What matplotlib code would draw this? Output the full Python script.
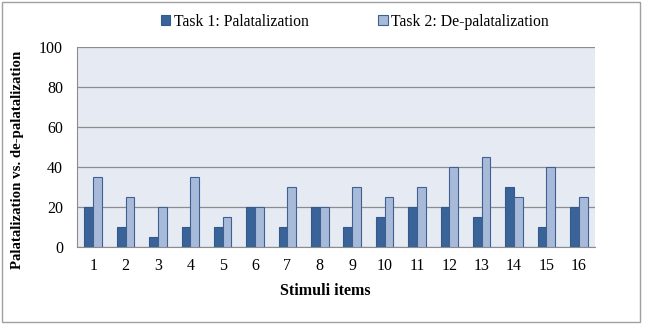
import matplotlib.pyplot as plt
import numpy as np

items = [str(i) for i in range(1, 17)]
task1 = [20, 10, 5, 10, 10, 20, 10, 20, 10, 15, 20, 20, 15, 30, 10, 20]
task2 = [35, 25, 20, 35, 15, 20, 30, 20, 30, 25, 30, 40, 45, 25, 40, 25]

plt.rcParams['font.family'] = ['Liberation Serif', 'DejaVu Serif']

W, H = 645, 324
fig = plt.figure(figsize=(W / 100, H / 100), dpi=100)
ax = fig.add_axes([77 / W, 1 - 247 / H, (595 - 77) / W, 200 / H])
ax.set_facecolor('#E6EAF3')

x = np.arange(len(items))
w = 0.27
ax.bar(x - w / 2, task1, w, color='#3A6499', edgecolor='#345A8A', linewidth=0.8,
       label='Task 1: Palatalization', zorder=3)
ax.bar(x + w / 2, task2, w, color='#A8BADA', edgecolor='#3F6090', linewidth=0.8,
       label='Task 2: De-palatalization', zorder=3)

ax.set_xlim(-0.5, len(items) - 0.5)
ax.set_ylim(0, 100)
ax.set_yticks(range(0, 101, 20))
ax.set_xticks(x)
ax.set_xticklabels(items)
ax.yaxis.grid(True, color='#8C8C8C', linewidth=0.9, zorder=0)
ax.tick_params(axis='both', length=0, labelsize=11.5)
ax.tick_params(axis='x', pad=8)
ax.tick_params(axis='y', pad=10)
for s in ['top', 'right']:
    ax.spines[s].set_visible(False)
ax.spines['left'].set_color('#8C8C8C')
ax.spines['bottom'].set_color('#8C8C8C')

fig.text(325 / W, 1 - 291 / H, 'Stimuli items', fontsize=11.5, fontweight='bold',
         ha='center', va='center')
fig.text(18 / W, 1 - 160 / H, 'Palatalization vs. de-palatalization', fontsize=10.7,
         fontweight='bold', rotation=90, ha='center', va='center')

h, l = ax.get_legend_handles_labels()
fig.legend(h, l, loc='center', bbox_to_anchor=(355 / W, 1 - 22 / H), ncol=2, frameon=False,
           fontsize=11.3, handlelength=0.6, handleheight=0.6, handletextpad=0.25,
           columnspacing=4.4, borderpad=0)

fig.patches.append(plt.Rectangle((0.003, 0.006), 0.99, 0.988, transform=fig.transFigure,
                                 fill=False, edgecolor='#A0A0A0', linewidth=1))

fig.savefig('out.png', dpi=100)
